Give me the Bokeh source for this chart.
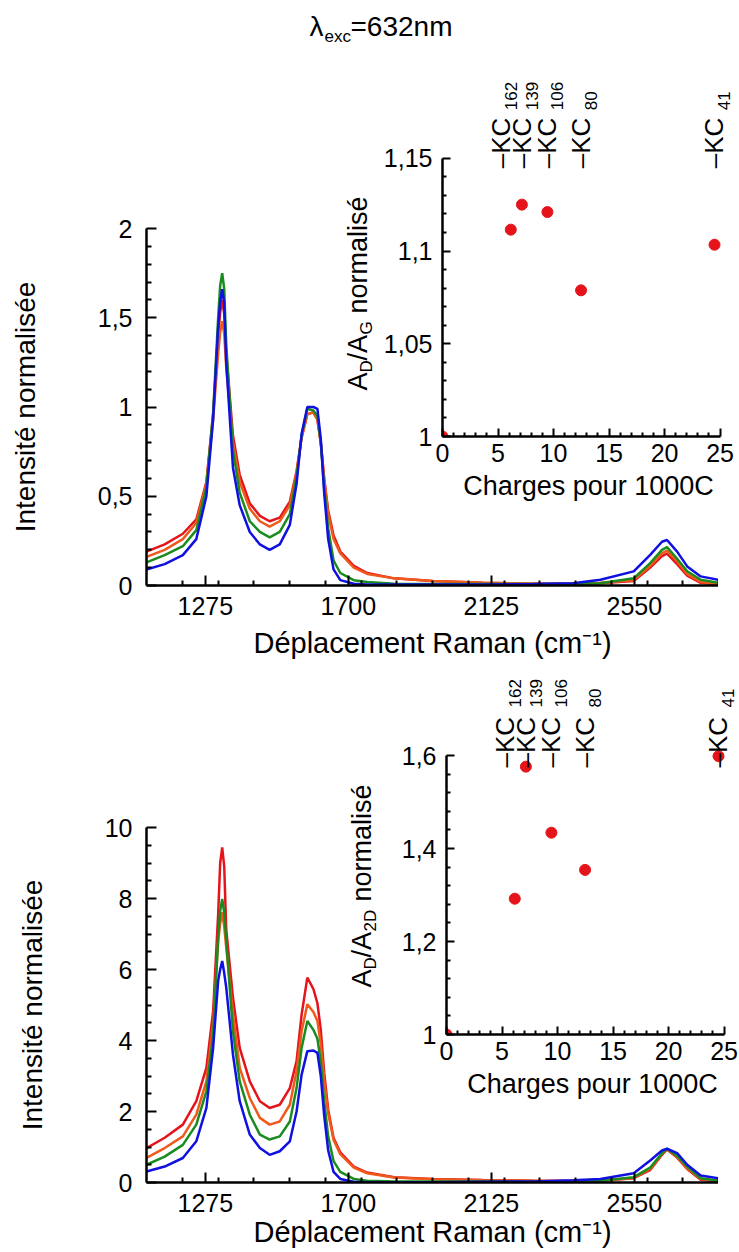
import math
from bokeh.plotting import figure
from bokeh.models import Range1d, FixedTicker, ColumnDataSource, LabelSet
from bokeh.layouts import column
from bokeh.embed import file_html
from bokeh.resources import INLINE
from bokeh.core.properties import value

FONT = "Liberation Sans"

# ---------------- data ----------------
raman_shift = [1100, 1154, 1208, 1248, 1278, 1298, 1313, 1319, 1325, 1331,
               1337, 1357, 1377, 1407, 1437, 1466, 1496, 1526, 1546, 1561,
               1578, 1596, 1608, 1618, 1628, 1640, 1656, 1676, 1716, 1756,
               1836, 1950, 2100, 2250, 2368, 2449, 2548, 2597, 2632, 2647,
               2677, 2707, 2747, 2800]

top_red = [0.19, 0.23, 0.29, 0.37, 0.58, 0.96, 1.40, 1.53, 1.60, 1.52,
           1.30, 0.84, 0.62, 0.46, 0.39, 0.36, 0.38, 0.47, 0.64, 0.83,
           0.96, 0.97, 0.93, 0.80, 0.60, 0.42, 0.28, 0.19, 0.11, 0.07,
           0.04, 0.025, 0.015, 0.01, 0.01, 0.013, 0.025, 0.10, 0.165, 0.178,
           0.12, 0.055, 0.015, 0.005]
top_orange = [0.16, 0.20, 0.26, 0.35, 0.57, 0.93, 1.30, 1.42, 1.48, 1.41,
              1.22, 0.80, 0.58, 0.43, 0.36, 0.33, 0.36, 0.45, 0.63, 0.83,
              0.96, 0.97, 0.93, 0.80, 0.60, 0.40, 0.26, 0.18, 0.10, 0.065,
              0.04, 0.025, 0.015, 0.01, 0.01, 0.015, 0.03, 0.11, 0.18, 0.195,
              0.135, 0.065, 0.02, 0.008]
top_green = [0.13, 0.17, 0.22, 0.31, 0.55, 0.97, 1.50, 1.68, 1.75, 1.66,
             1.35, 0.76, 0.52, 0.36, 0.30, 0.27, 0.30, 0.40, 0.61, 0.84,
             0.99, 0.98, 0.95, 0.80, 0.55, 0.32, 0.14, 0.07, 0.03, 0.02,
             0.01, 0.008, 0.008, 0.008, 0.008, 0.013, 0.04, 0.125, 0.20, 0.215,
             0.15, 0.08, 0.032, 0.015]
top_blue = [0.09, 0.12, 0.17, 0.26, 0.50, 0.93, 1.45, 1.59, 1.66, 1.58,
            1.25, 0.66, 0.45, 0.30, 0.23, 0.20, 0.23, 0.34, 0.57, 0.85,
            1.00, 1.00, 0.99, 0.82, 0.52, 0.26, 0.09, 0.03, 0.01, 0.005,
            0.005, 0.005, 0.005, 0.008, 0.013, 0.032, 0.079, 0.172, 0.245, 0.255,
            0.19, 0.107, 0.051, 0.032]

bottom_red = [0.97, 1.26, 1.63, 2.29, 3.23, 4.83, 7.56, 9.00, 9.44, 8.90,
              7.12, 5.21, 3.79, 2.85, 2.29, 2.10, 2.19, 2.66, 3.42, 4.73,
              5.77, 5.45, 5.05, 4.30, 3.10, 2.05, 1.25, 0.85, 0.45, 0.28,
              0.15, 0.10, 0.07, 0.05, 0.04, 0.05, 0.12, 0.35, 0.78, 0.93,
              0.70, 0.38, 0.08, 0.03]
bottom_orange = [0.69, 0.97, 1.30, 1.91, 2.85, 4.45, 6.80, 7.30, 7.61, 7.20,
                 6.62, 4.74, 3.23, 2.38, 1.82, 1.63, 1.72, 2.19, 3.14, 4.26,
                 5.02, 4.80, 4.55, 3.90, 2.90, 1.95, 1.20, 0.80, 0.42, 0.26,
                 0.14, 0.09, 0.06, 0.05, 0.04, 0.05, 0.13, 0.38, 0.80, 0.94,
                 0.72, 0.40, 0.10, 0.04]
bottom_green = [0.50, 0.73, 1.06, 1.63, 2.57, 4.17, 6.90, 7.65, 7.99, 7.60,
                6.81, 4.26, 2.85, 1.91, 1.35, 1.21, 1.30, 1.72, 2.66, 3.79,
                4.55, 4.30, 4.05, 3.40, 2.30, 1.30, 0.60, 0.30, 0.10, 0.05,
                0.03, 0.03, 0.03, 0.03, 0.03, 0.05, 0.15, 0.42, 0.82, 0.95,
                0.75, 0.45, 0.12, 0.05]
bottom_blue = [0.31, 0.45, 0.69, 1.16, 2.10, 3.79, 5.68, 6.00, 6.24, 5.90,
               5.49, 3.60, 2.29, 1.35, 0.97, 0.78, 0.88, 1.16, 2.00, 3.04,
               3.70, 3.72, 3.65, 3.00, 1.90, 0.90, 0.30, 0.10, 0.02, 0.01,
               0.01, 0.01, 0.02, 0.03, 0.06, 0.10, 0.26, 0.62, 0.90, 0.95,
               0.83, 0.50, 0.20, 0.12]

charges = [0, 6.15, 7.15, 9.45, 12.48, 24.5]
ratio_ad_ag = [1.0, 1.1115, 1.125, 1.121, 1.0788, 1.1034]
ratio_ad_a2d = [1.0, 1.292, 1.576, 1.434, 1.354, 1.5986]
kc_charges = [6.15, 7.15, 9.45, 12.48, 24.5]
kc_numbers = ["162", "139", "106", "80", "41"]

raman_ticks = [1275, 1700, 2125, 2550]
raman_tick_labels = ["1275", "1700", "2125", "2550"]
top_y_ticks = [0, 0.5, 1, 1.5, 2]
top_y_labels = ["0", "0,5", "1", "1,5", "2"]
bottom_y_ticks = [0, 2, 4, 6, 8, 10]
bottom_y_labels = ["0", "2", "4", "6", "8", "10"]
charge_ticks = [0, 5, 10, 15, 20, 25]
charge_tick_labels = ["0", "5", "10", "15", "20", "25"]
inset1_y_ticks = [1, 1.05, 1.1, 1.15]
inset1_y_labels = ["1", "1,05", "1,1", "1,15"]
inset2_y_ticks = [1, 1.2, 1.4, 1.6]
inset2_y_labels = ["1", "1,2", "1,4", "1,6"]

RED = "#e5141b"
ORANGE = "#ef5a1c"
GREEN = "#1a8c1f"
BLUE = "#1010e0"
DOT = "#e5141b"

raman_minor = [1100 + 106.25 * k for k in range(1, 17)]
raman_minor = [t for t in raman_minor if t not in raman_ticks]
charge_minor = [k for k in range(1, 25) if k % 5]

PAGE_W, PAGE_H = 739, 1252
BORDER_L, BORDER_R = 150, 0   # shared by every figure (the column aligns them)


def base_fig(fw, fh, xr, yr, bt, bb, axes=True):
    kw = {} if axes else dict(x_axis_location=None, y_axis_location=None)
    p = figure(frame_width=fw, frame_height=fh, x_range=xr, y_range=yr,
               output_backend="svg", toolbar_location=None, title=None,
               min_border_left=BORDER_L, min_border_right=BORDER_R,
               min_border_top=bt, min_border_bottom=bb, **kw)
    p.background_fill_color = None
    p.border_fill_color = None
    p.outline_line_color = None
    p.grid.visible = False
    return p


def style_axis(ax, major, labels, minor, size, standoff, tin, tmin):
    ax.ticker = FixedTicker(ticks=major, minor_ticks=minor)
    ax.major_label_overrides = dict(zip(major, labels))
    ax.major_label_text_font = FONT
    ax.major_label_text_font_size = size
    ax.major_label_text_color = "black"
    ax.major_label_standoff = standoff
    ax.axis_line_width = 2.5
    ax.axis_line_color = "black"
    ax.major_tick_in = tin
    ax.major_tick_out = 0
    ax.minor_tick_in = tmin
    ax.minor_tick_out = 0
    ax.major_tick_line_width = 2
    ax.minor_tick_line_width = 2
    ax.major_tick_line_color = "black"
    ax.minor_tick_line_color = "black"
    ax.axis_label_text_font = FONT
    ax.axis_label_text_font_style = "normal"
    ax.axis_label_text_color = "black"


def main_fig(fh, bt, bb, y_end, yt, yl, ymin, series, xlab_standoff):
    p = base_fig(572, fh, Range1d(1100, 2800), Range1d(0, y_end), bt, bb)
    xa = p.xaxis[0]
    ya = p.yaxis[0]
    style_axis(xa, raman_ticks, raman_tick_labels, raman_minor, "25px", 11, 10, 5)
    style_axis(ya, yt, yl, ymin, "25px", 14, 10, 5)
    xa.axis_label = "Déplacement Raman (cm⁻¹)"
    xa.axis_label_text_font_size = "29px"
    xa.axis_label_standoff = xlab_standoff
    ya.axis_label = "Intensité normalisée"
    ya.axis_label_text_font_size = "28px"
    ya.axis_label_standoff = 54
    for ys, c in series:
        p.line(raman_shift, ys, line_color=c, line_width=2.5)
    return p


top = main_fig(357, 228, 85, 2, top_y_ticks, top_y_labels,
               [k / 10 for k in range(1, 20) if k % 5],
               [(top_red, RED), (top_orange, ORANGE), (top_green, GREEN), (top_blue, BLUE)], 9)
bottom = main_fig(355, 160, 90, 10, bottom_y_ticks, bottom_y_labels,
                  [k / 2 for k in range(1, 20) if k % 4],
                  [(bottom_red, RED), (bottom_orange, ORANGE), (bottom_green, GREEN), (bottom_blue, BLUE)], 1)


def inset_fig(fh, y_end, yt, yl, ymin, ratios, ybound, kc_dy):
    p = base_fig(292, fh, Range1d(0, 26.3), Range1d(1, y_end), 10, 75)
    xa = p.xaxis[0]
    ya = p.yaxis[0]
    style_axis(xa, charge_ticks, charge_tick_labels, charge_minor, "25px", 7, 8, 4)
    style_axis(ya, yt, yl, ymin, "25px", 10, 8, 4)
    xa.bounds = (0, 25)
    ya.bounds = (1, ybound)
    xa.axis_label = "Charges pour 1000C"
    xa.axis_label_text_font_size = "27px"
    xa.axis_label_standoff = 6
    p.scatter(charges, ratios, size=11, fill_color=DOT, line_color=DOT)
    shift = [-1, 9, 9, 9, 8]          # label placement (162 is pushed left, as drawn)
    src = ColumnDataSource(dict(x=kc_charges, y=[ybound] * len(kc_charges),
                                t=["–KC"] * len(kc_charges), s=kc_numbers,
                                dx=shift, dxs=[d + 7 for d in shift]))
    p.add_layout(LabelSet(x="x", y="y", text="t", source=src, angle=math.pi / 2,
                          text_font=value(FONT), text_font_size=value("26px"),
                          text_color="black", text_align="left",
                          text_baseline="alphabetic", x_offset="dx", y_offset=kc_dy))
    p.add_layout(LabelSet(x="x", y="y", text="s", source=src, angle=math.pi / 2,
                          text_font=value(FONT), text_font_size=value("17px"),
                          text_color="black", text_align="left",
                          text_baseline="alphabetic", x_offset="dxs", y_offset=48))
    return p


inset1 = inset_fig(371, 1.2, inset1_y_ticks, inset1_y_labels,
                   [1 + k / 100 for k in range(1, 15) if k % 5], ratio_ad_ag, 1.15, -10)
inset2 = inset_fig(372, 1.8, inset2_y_ticks, inset2_y_labels,
                   [1 + k * 0.04 for k in range(1, 15) if k % 5], ratio_ad_a2d, 1.6, -12)

# overlay for free-standing texts (title, inset y titles with subscripts);
# its frame starts at the page's left edge and spans OVER_W pixels
OVER_W = PAGE_W - BORDER_L
overlay = base_fig(OVER_W, PAGE_H, Range1d(0, OVER_W), Range1d(0, PAGE_H), 0, 0, axes=False)


def txt(px, py, text, size, angle=0.0):
    src = ColumnDataSource(dict(x=[px], y=[PAGE_H - py], t=[text]))
    overlay.add_layout(LabelSet(x="x", y="y", text="t", source=src, angle=angle,
                                text_font=value(FONT), text_font_size=value(size),
                                text_color="black", text_align="left",
                                text_baseline="alphabetic"))


txt(309, 35, "λ", "28px")
txt(324, 41, "exc", "17px")
txt(350, 35, "=632nm", "28px")

R = math.pi / 2
for bx, by, sub in [(366, 390, "G"), (370, 987, "2D")]:
    txt(bx, by, "A", "27px", R)
    txt(bx + 5, by - 18, "D", "17px", R)
    txt(bx, by - 30, "/A", "27px", R)
    txt(bx + 5, by - 56, sub, "17px", R)
    txt(bx, by - 56 - (13 if sub == "G" else 22) - 8, "normalisé", "27px", R)

top.styles = {"position": "absolute", "left": "-4px", "top": "0px"}
bottom.styles = {"position": "absolute", "left": "-4px", "top": "667px"}
inset1.styles = {"position": "absolute", "left": "292px", "top": "55px"}
inset2.styles = {"position": "absolute", "left": "296px", "top": "652px"}
overlay.styles = {"position": "absolute", "left": f"-{BORDER_L}px", "top": "0px"}

root = column(top, bottom, inset1, inset2, overlay, width=PAGE_W, height=PAGE_H,
              sizing_mode="fixed", styles={"position": "relative", "overflow": "hidden"})

open("out.html", "w").write(file_html(root, INLINE))
